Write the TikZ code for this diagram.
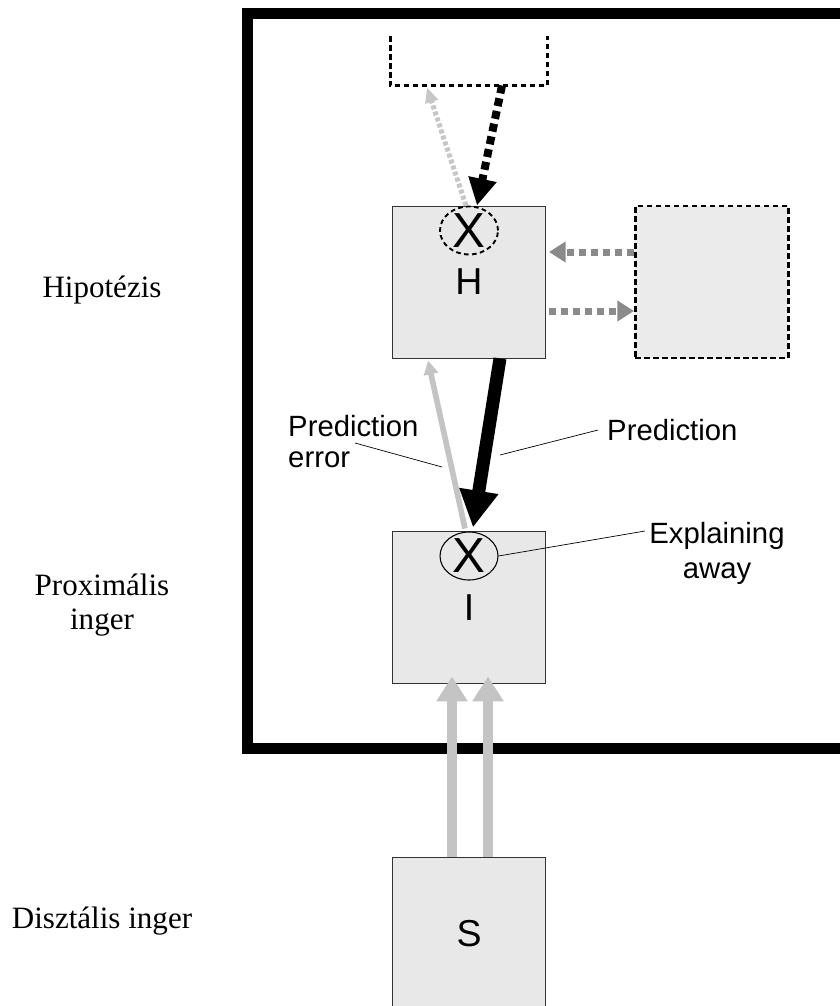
\documentclass[tikz,border=0pt]{standalone}
\usepackage{fontspec}
\setmainfont{Liberation Serif}
\newfontfamily\arialfont{Liberation Sans}
\usetikzlibrary{positioning, calc, shapes.geometric, arrows.meta}
\tikzset{
    x=0.03cm, y=-0.03cm, % one unit = one pixel of the original, y downwards
    box/.style={ % grey boxes H, I, S
        draw=black!80, line width=0.8pt, fill=black!9,
        minimum width=4.59cm, minimum height=4.56cm, inner sep=0pt,
        font=\arialfont\fontsize{32}{32}\selectfont
    },
    dashbox/.style={ % dashed outline
        draw=black, line width=2.2pt, dash pattern=on 0.17cm off 0.1cm
    },
    xcirc/.style={ % the multiplication circles
        ellipse, draw=black, line width=0.9pt,
        minimum width=1.74cm, minimum height=1.44cm, inner sep=0pt,
        label={[font=\arialfont\fontsize{42}{42}\selectfont]center:X}
    },
    frame/.style={draw=black, line width=0.33cm},
    serif/.style={font=\fontsize{26.5}{29}\selectfont, inner sep=0pt},
    lbl/.style={font=\arialfont\fontsize{25}{26.5}\selectfont, inner sep=0pt},
    leader/.style={draw=black, line width=0.6pt},
    % arrows
    predarrow/.style={line width=0.39cm, black,
        -{Triangle[width=1.11cm, length=1.11cm]}},
    errarrow/.style={line width=0.17cm, black!23,
        -{Triangle[width=0.42cm, length=0.42cm]}},
    inarrow/.style={line width=0.3cm, black!23,
        -{Triangle[width=0.9cm, length=0.75cm]}},
    topblack/.style={line width=0.24cm, black, dash pattern=on 0.24cm off 0.15cm,
        -{Triangle[width=0.81cm, length=0.81cm]}},
    topgray/.style={line width=0.15cm, black!22, dash pattern=on 0.12cm off 0.07cm,
        -{Triangle[width=0.38cm, length=0.45cm]}},
    sidearrow/.style={line width=0.21cm, black!46, dash pattern=on 0.21cm off 0.15cm,
        -{Triangle[width=0.6cm, length=0.5cm]}}
}
\begin{document}
\begin{tikzpicture}
    \useasboundingbox (0,0) rectangle (840,1006);
    \clip (0,0) rectangle (840,1006);
    % frame
    \draw[frame] (247,13) rectangle (900,748);

    % boxes
    \node[box]                          (hbox) at (469,282) {H};
    \node[box, below=5.19cm of hbox]    (ibox) {I};
    \node[box, below=5.19cm of ibox]    (sbox) {S};
    \node[box, dashbox, fill=black!8,
          right=2.64cm of hbox]         (rbox) {};
    \node[minimum width=4.71cm, minimum height=1.47cm,
          above=3.6cm of hbox]          (tbox) {};
    \draw[dashbox] (tbox.north west) -- (tbox.south west)
                -- (tbox.south east) -- (tbox.north east);

    % circles
    \node[xcirc, dashbox, line width=1.6pt, dash pattern=on 0.14cm off 0.1cm,
          anchor=north] (hx) at (hbox.north) {};
    \node[xcirc, anchor=north] (ix) at (ibox.north) {};

    % arrows
    \draw[topgray]   ($(hx.north)+(-3,0)$) -- ($(tbox.south)+(-42,2)$);
    \draw[topblack]  ($(tbox.south)+(33,0)$) -- ($(hx.north)+(8,0)$);
    \draw[sidearrow] ($(rbox.west)+(0,-30)$) -- ($(hbox.east)+(3,-30)$);
    \draw[sidearrow] ($(hbox.east)+(3,29)$) -- ($(rbox.west)+(0,29)$);
    \draw[errarrow]  ($(ix.north)+(-4,-3)$) -- ($(hbox.south)+(-41,2)$);
    \draw[predarrow] ($(hbox.south)+(31,0)$) -- ($(ix.north)+(4,-4)$);
    \foreach \dx in {-17,19}
        \draw[inarrow] ($(sbox.north)+(\dx,0)$) -- ($(ibox.south)+(\dx,-8)$);

    % labels left
    \node[serif]               (hyp)  at (102,290) {Hipotézis};
    \node[serif, align=center] (prox) at (102,605) {Proximális\\inger};
    \node[serif]               (dist) at (102,921) {Disztális inger};

    % labels inside
    \node[lbl, align=left, anchor=west] (errlbl) at (288,442) {Prediction\\error};
    \node[lbl, anchor=west, inner xsep=0.27cm] (predlbl) at (598,430) {Prediction};
    \node[lbl, align=center, font=\arialfont\fontsize{25}{30}\selectfont]
          (ealbl) at (717,553) {Explaining\\away};
    \coordinate (errfrom) at (355,443);
    \coordinate (errto)   at (442,467);
    \coordinate (predto)  at (500,455);
    \coordinate (eato)    at (645,531);
    \draw[leader] (errfrom) -- (errto);
    \draw[leader] (predto) -- (predlbl.west);
    \draw[leader] (ix.east) -- (eato);
\end{tikzpicture}
\end{document}
